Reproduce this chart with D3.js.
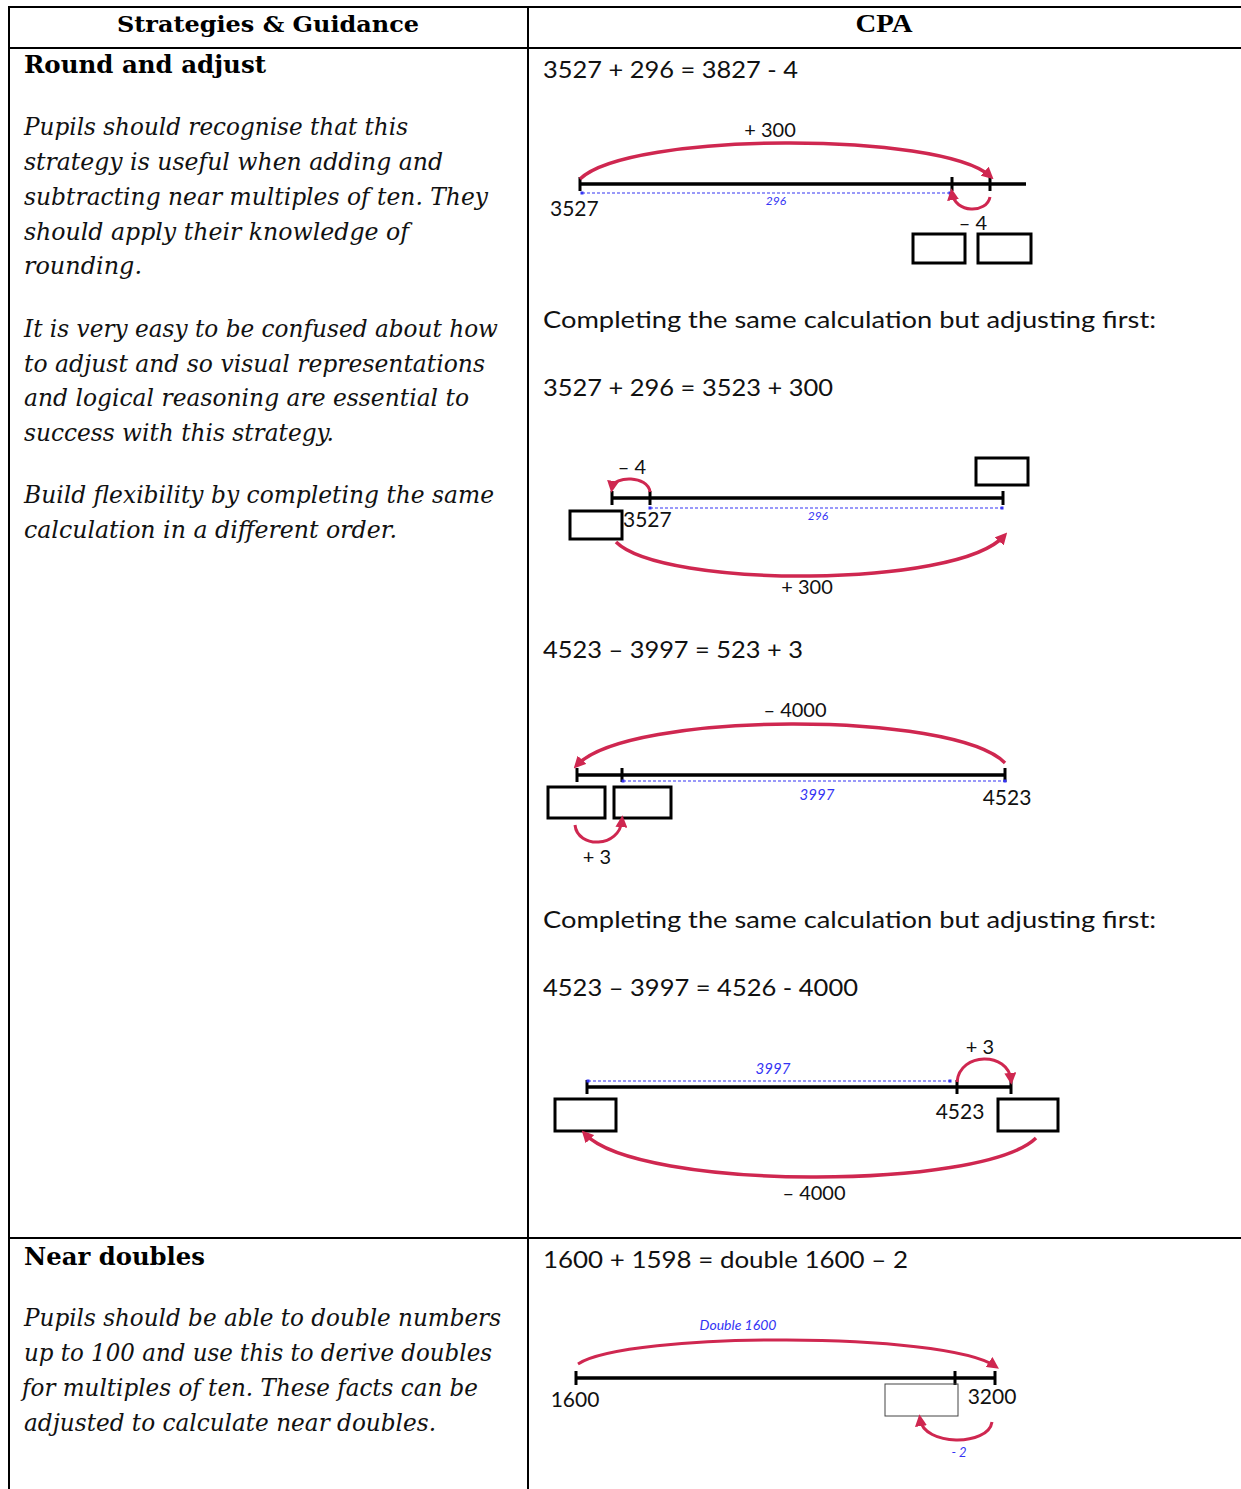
<!DOCTYPE html>
<html><head><meta charset="utf-8">
<script src="https://cdn.jsdelivr.net/npm/d3@7"></script>
<style>html,body{margin:0;padding:0;background:#fff;} svg{display:block}</style>
</head><body><svg id="c" width="1241" height="1489"></svg>
<script>
// ================= DATA =================
const headerLabels = ["Strategies & Guidance", "CPA"];
const strategyTitles = ["Round and adjust", "Near doubles"];
const roundAdjustLines = [
  "Pupils should recognise that this",
  "strategy is useful when adding and",
  "subtracting near multiples of ten. They",
  "should apply their knowledge of",
  "rounding.",
  "It is very easy to be confused about how",
  "to adjust and so visual representations",
  "and logical reasoning are essential to",
  "success with this strategy.",
  "Build flexibility by completing the same",
  "calculation in a different order."
];
const nearDoublesLines = [
  "Pupils should be able to double numbers",
  "up to 100 and use this to derive doubles",
  "for multiples of ten. These facts can be",
  "adjusted to calculate near doubles."
];
const cpaStatements = [
  "3527 + 296 = 3827 - 4",
  "Completing the same calculation but adjusting first:",
  "3527 + 296 = 3523 + 300",
  "4523 \u2013 3997 = 523 + 3",
  "Completing the same calculation but adjusting first:",
  "4523 \u2013 3997 = 4526 - 4000",
  "1600 + 1598 = double 1600 \u2013 2"
];

// Number line 1: 3527 + 296 = 3827 - 4
const nl1Ticks = [3527, 3823, 3827];
const nl1TickLabels = [{value: 3527, text: "3527"}];
const nl1Jumps = [{from: 3527, to: 3827, label: "+ 300"}, {from: 3827, to: 3823, label: "\u2013 4"}];
const nl1Brackets = [{from: 3527, to: 3823, label: "296"}];
const nl1Boxes = [3823, 3827];

// Number line 2: 3527 + 296 = 3523 + 300
const nl2Ticks = [3523, 3527, 3823];
const nl2TickLabels = [{value: 3527, text: "3527"}];
const nl2Jumps = [{from: 3527, to: 3523, label: "\u2013 4"}, {from: 3523, to: 3823, label: "+ 300"}];
const nl2Brackets = [{from: 3527, to: 3823, label: "296"}];
const nl2Boxes = [3523, 3823];

// Number line 3: 4523 – 3997 = 523 + 3
const nl3Ticks = [523, 526, 4523];
const nl3TickLabels = [{value: 4523, text: "4523"}];
const nl3Jumps = [{from: 4523, to: 523, label: "\u2013 4000"}, {from: 523, to: 526, label: "+ 3"}];
const nl3Brackets = [{from: 526, to: 4523, label: "3997"}];
const nl3Boxes = [523, 526];

// Number line 4: 4523 – 3997 = 4526 - 4000
const nl4Ticks = [526, 4523, 4526];
const nl4TickLabels = [{value: 4523, text: "4523"}];
const nl4Jumps = [{from: 4523, to: 4526, label: "+ 3"}, {from: 4526, to: 526, label: "\u2013 4000"}];
const nl4Brackets = [{from: 526, to: 4523, label: "3997"}];
const nl4Boxes = [526, 4526];

// Number line 5: 1600 + 1598 = double 1600 – 2
const nl5Ticks = [1600, 3198, 3200];
const nl5TickLabels = [{value: 1600, text: "1600"}, {value: 3200, text: "3200"}];
const nl5Jumps = [{from: 1600, to: 3200, label: "Double 1600"}, {from: 3200, to: 3198, label: "- 2"}];
const nl5Brackets = [];
const nl5Boxes = [3198];

// ================= LAYOUT / STYLE =================
const RED = "#cf2750", BLUE = "#3434f4";
const SERIF = "'DejaVu Serif', Georgia, serif";
const SANS = "Lato, 'Open Sans', sans-serif";

const svg = d3.select("#c");
svg.append("rect").attr("width", 1241).attr("height", 1489).attr("fill", "#fff");

const defs = svg.append("defs");
function marker(id, color) {
  defs.append("marker").attr("id", id).attr("viewBox", "0 0 10 10")
    .attr("refX", 6).attr("refY", 5).attr("markerWidth", 12).attr("markerHeight", 12)
    .attr("markerUnits", "userSpaceOnUse").attr("orient", "auto")
    .append("path").attr("d", "M0,0 L10,5 L0,10 Z").attr("fill", color);
}
marker("arrowRed", RED);

function fitText(sel, w) {
  sel.attr("textLength", w).attr("lengthAdjust", "spacingAndGlyphs");
  return sel;
}

// table grid
const grid = svg.append("g").attr("stroke", "#000").attr("stroke-width", 2);
const hLines = [7, 48, 1238];
grid.selectAll("line.h").data(hLines).join("line")
  .attr("x1", 8).attr("x2", 1241).attr("y1", d => d).attr("y2", d => d);
const vLines = [9, 528];
grid.selectAll("line.v").data(vLines).join("line")
  .attr("x1", d => d).attr("x2", d => d).attr("y1", 6).attr("y2", 1489);

// header
const headerLayout = [{x: 268, w: 302, font: SERIF, size: 23}, {x: 884, w: 57, font: "'Liberation Serif', 'Times New Roman', serif", size: 26}];
svg.selectAll("text.hdr").data(headerLabels).join("text").attr("class", "hdr")
  .attr("x", (d, i) => headerLayout[i].x).attr("y", 32)
  .attr("text-anchor", "middle").attr("font-weight", "bold")
  .attr("font-family", (d, i) => headerLayout[i].font).attr("font-size", (d, i) => headerLayout[i].size)
  .text(d => d)
  .each(function(d, i) { fitText(d3.select(this), headerLayout[i].w); });

// strategy titles
const titleLayout = [{y: 73, w: 242}, {y: 1265, w: 181}];
svg.selectAll("text.ttl").data(strategyTitles).join("text").attr("class", "ttl")
  .attr("x", 24).attr("y", (d, i) => titleLayout[i].y)
  .attr("font-family", SERIF).attr("font-weight", "bold").attr("font-size", 24.5)
  .text(d => d)
  .each(function(d, i) { fitText(d3.select(this), titleLayout[i].w); });

// guidance paragraphs
const raBase = [135, 170, 205, 240, 274, 337, 372, 406, 441, 503, 538];
const raEnd = [408, 443, 488, 409, 142, 498, 485, 469, 334, 494, 397];
const ndBase = [1326, 1361, 1396, 1431];
const ndEnd = [501, 492, 478, 436];
const ndStart = [24, 24, 22, 24];
function para(lines, bases, ends, starts) {
  svg.append("g").selectAll("text").data(lines).join("text")
    .attr("x", (d, i) => starts ? starts[i] : 24).attr("y", (d, i) => bases[i])
    .attr("font-family", SERIF).attr("font-style", "italic").attr("font-size", 25)
    .attr("fill", "#111")
    .text(d => d)
    .each(function(d, i) { fitText(d3.select(this), ends[i] - (starts ? starts[i] : 24)); });
}
para(roundAdjustLines, raBase, raEnd);
para(nearDoublesLines, ndBase, ndEnd, ndStart);

// CPA statements
const cpaBase = [78, 328, 396, 658, 928, 996, 1268];
const cpaEnd = [798, 1156, 833, 803, 1156, 858, 908];
svg.append("g").selectAll("text").data(cpaStatements).join("text")
  .attr("x", 543).attr("y", (d, i) => cpaBase[i])
  .attr("font-family", SANS).attr("font-size", 24).attr("fill", "#111")
  .text(d => d)
  .each(function(d, i) { fitText(d3.select(this), cpaEnd[i] - 543); });

// ================= NUMBER LINES =================
function jumpPath(x0, y0, x1, y1, peak, k) {
  const avg = (y0 + y1) / 2;
  const yc = (peak - 0.25 * avg) / 0.75;
  const off = (x1 - x0) * k;
  const p = d3.path();
  p.moveTo(x0, y0);
  p.bezierCurveTo(x0 + off, yc, x1 - off, yc, x1, y1);
  return p.toString();
}

function numberLine(cfg) {
  const x = d3.scaleLinear().domain(cfg.ticks).range(cfg.range);
  const g = svg.append("g");
  const [a, b] = d3.extent(cfg.ticks);
  g.append("line").attr("x1", x(a)).attr("x2", x(b) + (cfg.extend || 0))
    .attr("y1", cfg.y).attr("y2", cfg.y).attr("stroke", "#000").attr("stroke-width", 3.5);
  g.selectAll("line.tk").data(cfg.ticks).join("line")
    .attr("x1", d => x(d)).attr("x2", d => x(d))
    .attr("y1", cfg.y - 7).attr("y2", cfg.y + 7)
    .attr("stroke", "#000").attr("stroke-width", 3);
  cfg.brackets.forEach((br, i) => {
    const L = cfg.bracketLayout[i];
    const bx0 = x(br.from) + L.dx0, bx1 = x(br.to) + L.dx1;
    g.append("line").attr("x1", bx0).attr("x2", bx1).attr("y1", L.y).attr("y2", L.y)
      .attr("stroke", BLUE).attr("stroke-width", 1.2).attr("stroke-dasharray", "3,2");
    g.selectAll(null).data([bx0, bx1]).join("rect")
      .attr("x", d => d - 1.5).attr("y", L.y - 1.5).attr("width", 3).attr("height", 3).attr("fill", BLUE);
    g.append("text").attr("x", L.lx).attr("y", L.ly).attr("text-anchor", "middle")
      .attr("font-family", SANS).attr("font-style", "italic").attr("font-size", L.size)
      .attr("fill", BLUE).text(br.label);
  });
  g.selectAll("rect.box").data(cfg.boxes).join("rect")
    .attr("x", (d, i) => x(d) + cfg.boxLayout[i].dx).attr("y", (d, i) => cfg.boxLayout[i].y)
    .attr("width", (d, i) => cfg.boxLayout[i].w).attr("height", (d, i) => cfg.boxLayout[i].h)
    .attr("fill", "none")
    .attr("stroke", (d, i) => cfg.boxLayout[i].thin ? "#444" : "#000")
    .attr("stroke-width", (d, i) => cfg.boxLayout[i].thin ? 1 : 3);
  cfg.jumps.forEach((j, i) => {
    const L = cfg.jumpLayout[i];
    g.append("path")
      .attr("d", jumpPath(x(j.from) + (L.dx0 || 0), L.y0, x(j.to) + (L.dx1 || 0), L.y1, L.peak, L.k))
      .attr("fill", "none").attr("stroke", RED).attr("stroke-width", L.sw || 3.5)
      .attr("marker-end", "url(#arrowRed)");
    g.append("text").attr("x", L.lx).attr("y", L.ly).attr("text-anchor", "middle")
      .attr("font-family", SANS).attr("font-size", L.size || 20)
      .attr("font-style", L.blue ? "italic" : null)
      .attr("fill", L.blue ? BLUE : "#111").text(j.label);
  });
  g.selectAll("text.tl").data(cfg.tickLabels).join("text")
    .attr("x", (d, i) => x(d.value) + cfg.tickLabelLayout[i].dx).attr("y", (d, i) => cfg.tickLabelLayout[i].y)
    .attr("text-anchor", (d, i) => cfg.tickLabelLayout[i].anchor || "middle")
    .attr("font-family", SANS).attr("font-size", 21).attr("fill", "#111")
    .text(d => d.text);
}

numberLine({
  ticks: nl1Ticks, range: [580, 952, 990], y: 184, extend: 36,
  brackets: nl1Brackets, bracketLayout: [{dx0: 2, dx1: -2, y: 193, lx: 776, ly: 205, size: 12}],
  boxes: nl1Boxes, boxLayout: [{dx: -39, y: 234, w: 52, h: 29}, {dx: -12, y: 234, w: 53, h: 29}],
  jumps: nl1Jumps, jumpLayout: [
    {y0: 179, y1: 176, peak: 143, k: 0.12, lx: 770, ly: 137},
    {y0: 197, y1: 193, peak: 209, k: 0.08, lx: 973, ly: 230, sw: 3}
  ],
  tickLabels: nl1TickLabels, tickLabelLayout: [{dx: -30, y: 216, anchor: "start"}]
});

numberLine({
  ticks: nl2Ticks, range: [612, 650, 1003], y: 498,
  brackets: nl2Brackets, bracketLayout: [{dx0: 0, dx1: -1, y: 508, lx: 818, ly: 520, size: 12}],
  boxes: nl2Boxes, boxLayout: [{dx: -42, y: 511, w: 52, h: 28}, {dx: -27, y: 458, w: 52, h: 27}],
  jumps: nl2Jumps, jumpLayout: [
    {y0: 492, y1: 488, peak: 479, k: 0.05, lx: 632, ly: 474, sw: 3},
    {y0: 542, y1: 536, peak: 576, k: 0.12, dx0: 4, dx1: 1, lx: 807, ly: 594}
  ],
  tickLabels: nl2TickLabels, tickLabelLayout: [{dx: -27, y: 527, anchor: "start"}]
});

numberLine({
  ticks: nl3Ticks, range: [577, 622, 1005], y: 775,
  brackets: nl3Brackets, bracketLayout: [{dx0: 1, dx1: 0, y: 781, lx: 817, ly: 800, size: 15}],
  boxes: nl3Boxes, boxLayout: [{dx: -29, y: 787, w: 57, h: 31}, {dx: -8, y: 787, w: 57, h: 31}],
  jumps: nl3Jumps, jumpLayout: [
    {y0: 763, y1: 765, peak: 724, k: 0.12, lx: 795, ly: 717},
    {y0: 825, y1: 820, peak: 842, k: 0.05, dx0: -2, dx1: 0, lx: 597, ly: 864, sw: 3}
  ],
  tickLabels: nl3TickLabels, tickLabelLayout: [{dx: 2, y: 805}]
});

numberLine({
  ticks: nl4Ticks, range: [587, 957, 1011], y: 1087,
  brackets: nl4Brackets, bracketLayout: [{dx0: 1, dx1: -7, y: 1081, lx: 773, ly: 1074, size: 15}],
  boxes: nl4Boxes, boxLayout: [{dx: -32, y: 1099, w: 61, h: 32}, {dx: -13, y: 1099, w: 60, h: 32}],
  jumps: nl4Jumps, jumpLayout: [
    {y0: 1082, y1: 1080, peak: 1059, k: 0.05, lx: 980, ly: 1054, sw: 3},
    {y0: 1138, y1: 1134, peak: 1177, k: 0.12, dx0: 25, dx1: -2, lx: 814, ly: 1200}
  ],
  tickLabels: nl4TickLabels, tickLabelLayout: [{dx: 3, y: 1119}]
});

numberLine({
  ticks: nl5Ticks, range: [576, 955, 995], y: 1378,
  brackets: nl5Brackets, bracketLayout: [],
  boxes: nl5Boxes, boxLayout: [{dx: -70, y: 1384, w: 73, h: 32, thin: true}],
  jumps: nl5Jumps, jumpLayout: [
    {y0: 1364, y1: 1366, peak: 1340, k: 0.12, dx0: 2, lx: 738, ly: 1330, size: 14, blue: true, sw: 3},
    {y0: 1422, y1: 1419, peak: 1440, k: 0.05, dx0: -3, dx1: -35, lx: 959, ly: 1457, size: 13, blue: true, sw: 3}
  ],
  tickLabels: nl5TickLabels, tickLabelLayout: [{dx: -1, y: 1407}, {dx: -3, y: 1404}]
});
</script></body></html>
